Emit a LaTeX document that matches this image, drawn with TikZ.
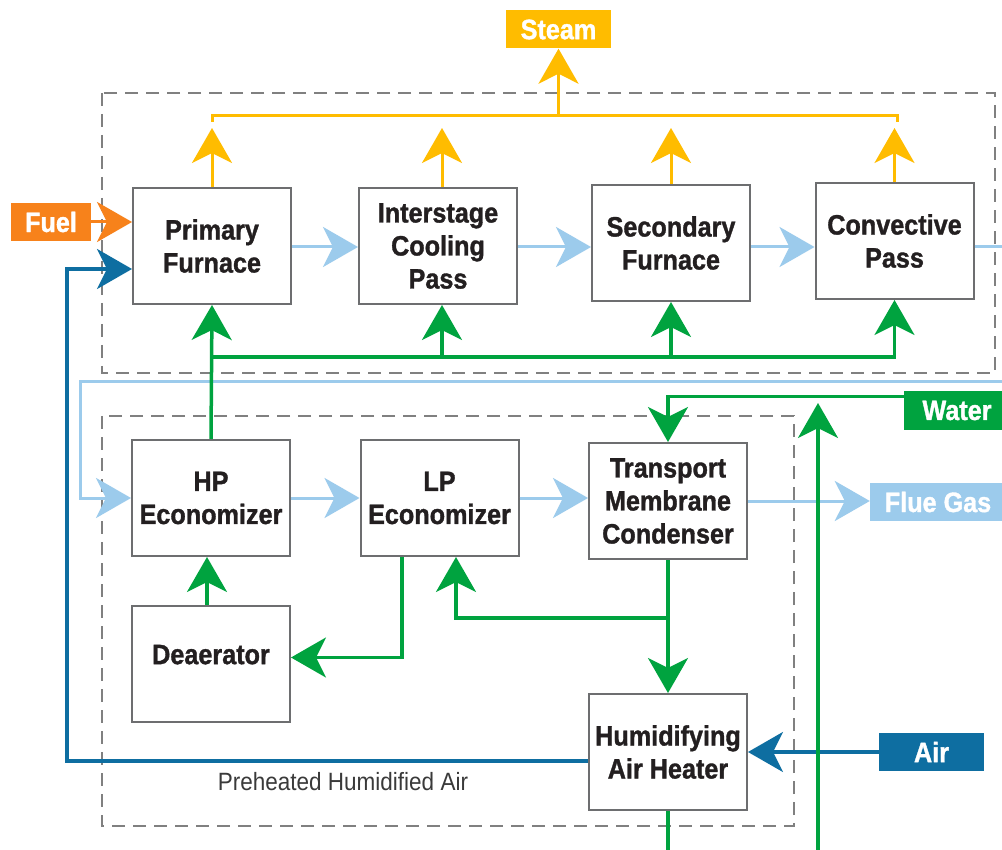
\documentclass[tikz,border=0pt]{standalone}
\usepackage{fontspec}
\setmainfont{Liberation Sans}[FakeStretch=0.9, BoldFeatures={FakeBold=1.2}]
\usetikzlibrary{arrows.meta}
\definecolor{steamc}{HTML}{FFBC00}
\definecolor{fuelc}{HTML}{F7821B}
\definecolor{fluec}{HTML}{9CCBEC}
\definecolor{airc}{HTML}{0E6EA1}
\definecolor{waterc}{HTML}{00A33F}
\definecolor{boxc}{HTML}{6D6E70}
\definecolor{dashc}{HTML}{808080}
\definecolor{txtc}{HTML}{231F20}
\definecolor{captc}{HTML}{3A3A3A}
\begin{document}
\begin{tikzpicture}[x=1pt,y=-1pt,
  box/.style={draw=boxc, line width=2pt, fill=white, minimum width=158pt, minimum height=116pt,
    inner sep=0pt, align=center, font=\fontsize{28}{33}\selectfont\bfseries, text=txtc},
  lab/.style={inner sep=0pt, minimum height=38pt, font=\fontsize{28}{33}\selectfont\bfseries, text=white},
  tip/.style={-{Stealth[length=35pt,width=40pt,inset=10pt]}},
  steamln/.style={draw=steamc, line width=3pt},
  fuelln/.style={draw=fuelc, line width=3pt},
  flueln/.style={draw=fluec, line width=3pt},
  airln/.style={draw=airc, line width=3.5pt},
  waterln/.style={draw=waterc, line width=3.5pt},
  dashbox/.style={draw=dashc, line width=2pt, dash pattern=on 13pt off 8pt}
]
\clip (0,0) rectangle (1002,850);
\fill[white] (0,0) rectangle (1002,850);

% dashed groups
\draw[dashbox] (102,93) rectangle (995,373);
\draw[dashbox] (102,416) rectangle (794,826);

% process boxes
\node[box] (pf)  at (212,246) {Primary\\Furnace};
\node[box] (ics) at (438,246) {Interstage\\Cooling\\Pass};
\node[box] (sf)  at (671,243) {Secondary\\Furnace};
\node[box] (cp)  at (894.5,241) {Convective\\Pass};
\node[box] (hp)  at (211,498) {HP\\Economizer};
\node[box] (lp)  at (439.5,498) {LP\\Economizer};
\node[box] (tmc) at (668,501) {Transport\\Membrane\\Condenser};
\node[box] (dea) at (211,663.5) {\raisebox{18pt}{Deaerator}};
\node[box] (hah) at (668,752) {Humidifying\\Air Heater};

% terminal labels
\node[lab, fill=steamc, minimum width=105pt] (steam) at (558.5,29.5) {Steam};
\node[lab, fill=fuelc, minimum width=80pt] (fuel) at (51,222) {Fuel};
\node[lab, fill=waterc, minimum width=106pt] (water) at (957,410.5) {Water};
\node[lab, fill=fluec, minimum width=136pt] (flue) at (938,502) {Flue Gas};
\node[lab, fill=airc, minimum width=105pt] (air) at (931.5,752) {Air};
\node[font=\fontsize{25}{30}\selectfont, text=captc, inner sep=0pt] (phl) at (343,782) {Preheated Humidified Air};

% helper coordinates
\coordinate (fy) at (0,247);
\coordinate (st) at (0,128);
\coordinate (hl) at (212,116);
\coordinate (hr) at (897,116);
\coordinate (gh) at (0,357);
\coordinate (fr1) at (1010,247);
\coordinate (fr2) at (1010,382);
\coordinate (fl) at (80,382);
\coordinate (abl) at (67,761);
\coordinate (atl) at (67,269);
\coordinate (gup0) at (818,860);
\coordinate (gup1) at (818,403);
\coordinate (j1) at (668,618);
\coordinate (win) at ([yshift=-5pt]water.north west);
\coordinate (lpin) at ([xshift=16.5pt]lp.south);
\coordinate (lpout) at ([xshift=-37.5pt]lp.south);
\coordinate (deain) at ([yshift=6pt]dea.east);
\coordinate (hahout) at ([yshift=-9pt]hah.west);
\coordinate (icsn) at ([xshift=4pt]ics.north);
\coordinate (icss) at ([xshift=4pt]ics.south);
\coordinate (dean) at ([xshift=-4pt]dea.north);

% steam
\draw[steamln,tip] (pf.north) -- (pf.north |- st);
\draw[steamln,tip] (icsn) -- (icsn |- st);
\draw[steamln,tip] (sf.north) -- (sf.north |- st);
\draw[steamln,tip] (cp.north) -- (cp.north |- st);
\draw[steamln] ([yshift=-6pt]hl) -- (hl) -- (hr) -- ([yshift=-6pt]hr);
\draw[steamln,tip] (steam.south |- hl) -- (steam.south);

% fuel
\draw[fuelln,tip] (fuel.east) -- (pf.west |- fuel.east);

% flue gas
\draw[flueln,tip] (pf.east |- fy) -- (ics.west |- fy);
\draw[flueln,tip] (ics.east |- fy) -- (sf.west |- fy);
\draw[flueln,tip] (sf.east |- fy) -- (cp.west |- fy);
\draw[flueln] (cp.east |- fy) -- (fr1);
\draw[flueln,tip] (fr2) -- (fl) -- (fl |- hp.west) -- (hp.west);
\draw[flueln,tip] (hp.east) -- (lp.west);
\draw[flueln,tip] (lp.east) -- (tmc.west |- lp.east);
\draw[flueln,tip] (tmc.east) -- (flue.west |- tmc.east);

% air
\draw[airln,tip] (air.west) -- (hah.east |- air.west);
\draw[airln,tip] (hahout) -- (abl) -- (atl) -- (pf.west |- atl);

% water
\draw[waterln,tip] (hp.north) -- (pf.south);
\draw[waterln,tip] (hp.north |- gh) -- (cp.south |- gh) -- (cp.south);
\draw[waterln,tip] (icss |- gh) -- (icss);
\draw[waterln,tip] (sf.south |- gh) -- (sf.south);
\draw[waterln,tip] (win) -- (tmc.north |- win) -- (tmc.north);
\draw[waterln,tip] (tmc.south) -- (hah.north);
\draw[waterln] (hah.south) -- ++(0,60);
\draw[waterln,tip] (j1) -- (lpin |- j1) -- (lpin);
\draw[waterln,tip] (lpout) -- (lpout |- deain) -- (deain);
\draw[waterln,tip] (dean) -- (dean |- hp.south);
\draw[waterln,tip] (gup0) -- (gup1);
\end{tikzpicture}
\end{document}
